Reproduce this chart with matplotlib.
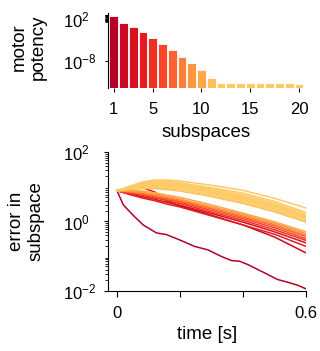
import numpy as np
import matplotlib
matplotlib.use("Agg")
import matplotlib.pyplot as plt
from matplotlib.ticker import FixedLocator, NullFormatter, LogLocator

plt.rcParams['font.family'] = ['Liberation Sans', 'DejaVu Sans']
plt.rcParams['mathtext.fontset'] = 'custom'
plt.rcParams['mathtext.rm'] = 'Liberation Sans'
plt.rcParams['mathtext.it'] = 'Liberation Sans:italic'

# ---- data: motor potency per subspace (log10 exponents)
subspaces = list(range(1, 21))
potency_exp = [2.78, 1.13, 0.04, -1.14, -2.49, -3.91, -5.40, -6.91, -8.40, -10.13,
               -11.95, -13.06, -13.2, -13.2, -13.2, -13.2, -13.2, -13.2, -13.2, -13.37]
xtick_top = [1, 5, 10, 15, 20]

# ---- data: error in subspace over time (log10 exponents)
t_dark = [0, 0.02, 0.05, 0.083, 0.125, 0.157, 0.198, 0.246, 0.288, 0.331, 0.363,
          0.389, 0.416, 0.469, 0.51, 0.543, 0.575, 0.6]
err_dark = [0.89, 0.48, 0.19, -0.10, -0.33, -0.38, -0.53, -0.72, -0.82, -1.01, -1.13,
            -1.15, -1.25, -1.49, -1.68, -1.76, -1.85, -1.95]

t_grid = [0, 0.04, 0.08, 0.12, 0.16, 0.2, 0.3, 0.4, 0.5, 0.6]
err_2 = [0.89, 0.95, 0.98, 0.85, 0.58, 0.45, 0.18, -0.10, -0.45, -0.91]
err_3 = [0.89, 0.80, 0.72, 0.64, 0.55, 0.47, 0.23, -0.02, -0.30, -0.62]
err_4 = [0.89, 0.78, 0.68, 0.60, 0.50, 0.42, 0.16, -0.10, -0.37, -0.72]
err_5 = [0.89, 0.82, 0.76, 0.68, 0.60, 0.52, 0.27, 0.03, -0.24, -0.55]
err_6 = [0.89, 0.84, 0.78, 0.71, 0.63, 0.56, 0.32, 0.08, -0.18, -0.50]
err_7 = [0.89, 0.85, 0.80, 0.73, 0.66, 0.59, 0.36, 0.12, -0.13, -0.44]
err_8 = [0.89, 0.86, 0.82, 0.76, 0.69, 0.62, 0.39, 0.16, -0.09, -0.40]
err_9 = [0.89, 0.88, 0.85, 0.79, 0.72, 0.65, 0.43, 0.20, -0.05, -0.35]
err_10 = [0.89, 0.90, 0.88, 0.83, 0.76, 0.70, 0.48, 0.24, -0.01, -0.30]
err_11 = [0.89, 0.93, 0.95, 0.95, 0.92, 0.88, 0.72, 0.52, 0.28, -0.02]
err_12 = [0.89, 0.94, 0.97, 0.98, 0.95, 0.90, 0.74, 0.56, 0.32, 0.00]
err_13 = [0.89, 0.95, 1.00, 1.01, 0.98, 0.94, 0.78, 0.60, 0.36, 0.04]
err_14 = [0.89, 0.96, 1.02, 1.04, 1.02, 0.98, 0.82, 0.64, 0.40, 0.08]
err_15 = [0.89, 0.97, 1.04, 1.06, 1.05, 1.01, 0.85, 0.67, 0.43, 0.11]
err_16 = [0.89, 0.98, 1.06, 1.09, 1.08, 1.04, 0.88, 0.70, 0.46, 0.14]
err_17 = [0.89, 0.99, 1.08, 1.11, 1.10, 1.06, 0.91, 0.73, 0.49, 0.17]
err_18 = [0.89, 1.00, 1.10, 1.14, 1.13, 1.09, 0.94, 0.77, 0.53, 0.21]
err_19 = [0.89, 1.01, 1.12, 1.17, 1.16, 1.12, 0.98, 0.82, 0.58, 0.26]
err_20 = [0.89, 1.02, 1.14, 1.20, 1.20, 1.17, 1.05, 0.90, 0.67, 0.39]
err_rest = [err_2, err_3, err_4, err_5, err_6, err_7, err_8, err_9, err_10, err_11,
            err_12, err_13, err_14, err_15, err_16, err_17, err_18, err_19, err_20]
xtick_bot = [0, 0.2, 0.4, 0.6]
xticklabels_bot = ['0', '', '', '0.6']

# ---- colours mapped from potency
cmap = plt.get_cmap('YlOrRd')
pe = np.array(potency_exp)
cval = 0.3 + 0.6 * np.clip((pe + 13.0) / 16.0, 0, 1)
colors = [cmap(v) for v in cval]

fig = plt.figure(figsize=(3.2, 3.51), dpi=100)
ax1 = fig.add_axes([0.3375, 0.750, 0.612, 0.212])
ax2 = fig.add_axes([0.3375, 0.172, 0.619, 0.394])

ybot = 10.0 ** -14.24
ax1.bar(subspaces, 10.0 ** pe - ybot, bottom=ybot, width=0.9, color=colors,
        edgecolor='#ffffff', linewidth=0.6)
ax1.set_yscale('log')
ax1.set_ylim(ybot, 10.0 ** 3.35)
ax1.set_xlim(0.42, 20.5)
ax1.set_yticks([1e2, 1e-8])
ax1.set_yticklabels([r'$10^{2}$', r'$10^{-8}$'])
ax1.yaxis.set_minor_locator(FixedLocator([m * 10.0 ** d for d in (1, 2) for m in range(2, 10)]))
ax1.yaxis.set_minor_formatter(NullFormatter())
ax1.set_xticks(xtick_top)
for s in ('top', 'right', 'bottom'):
    ax1.spines[s].set_visible(False)
ax1.tick_params(axis='x', which='major', labelsize=12, length=2.9, width=0.8, pad=7.4)
ax1.tick_params(axis='y', which='major', labelsize=12, length=2.5, width=0.8, pad=29.9)
ax1.tick_params(axis='y', which='minor', length=2, width=0.6)
for lbl in ax1.get_yticklabels():
    lbl.set_horizontalalignment('left')
ax1.set_xlabel('subspaces', fontsize=13.5, labelpad=5)
ax1.set_ylabel('motor\npotency', fontsize=13.5)
ax1.yaxis.set_label_coords(-0.311, 0.55)

ax2.plot(t_dark, 10.0 ** np.array(err_dark), color=colors[0], lw=1.1)
for i, e in enumerate(err_rest):
    ax2.plot(t_grid, 10.0 ** np.array(e), color=colors[i + 1], lw=1.1)
ax2.set_yscale('log')
ax2.set_ylim(1e-2, 1e2)
ax2.set_xlim(-0.0286, 0.6)
ax2.set_yticks([1e-2, 1e0, 1e2])
ax2.set_yticklabels([r'$10^{-2}$', r'$10^{0}$', r'$10^{2}$'])
ax2.yaxis.set_minor_locator(LogLocator(base=10, subs=np.arange(2, 10), numticks=20))
ax2.yaxis.set_minor_formatter(NullFormatter())
ax2.set_xticks(xtick_bot)
ax2.set_xticklabels(xticklabels_bot)
for s in ('top', 'right'):
    ax2.spines[s].set_visible(False)
ax2.tick_params(axis='x', which='major', labelsize=12, length=4.3, width=0.8, pad=6.7)
ax2.tick_params(axis='y', which='major', labelsize=12, length=2.9, width=0.8, pad=29.5)
ax2.tick_params(axis='y', which='minor', length=2, width=0.6)
for lbl in ax2.get_yticklabels():
    lbl.set_horizontalalignment('left')
ax2.set_xlabel('time [s]', fontsize=13.5, labelpad=4)
ax2.set_ylabel('error in\nsubspace', fontsize=13.5)
ax2.yaxis.set_label_coords(-0.318, 0.5)

fig.savefig('out.png', dpi=100)
